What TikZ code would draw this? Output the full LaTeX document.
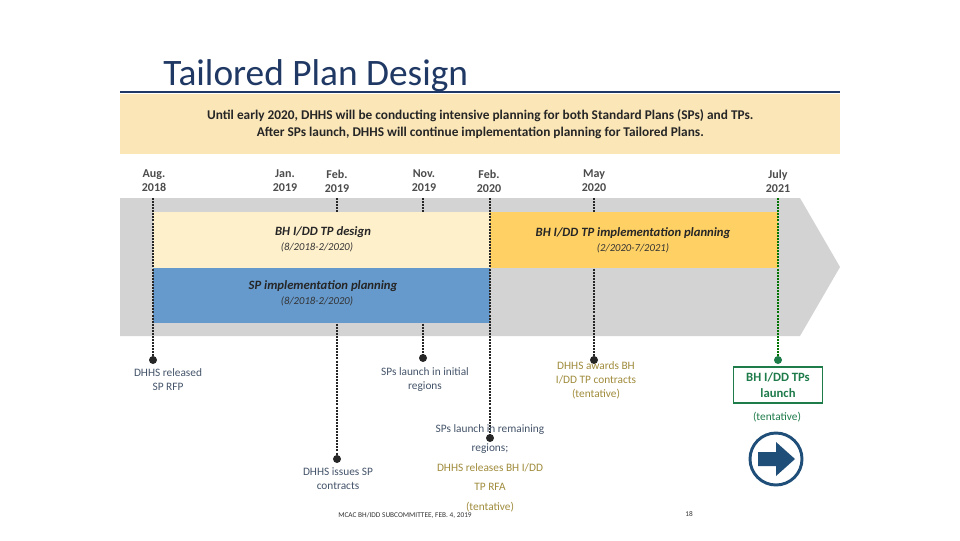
\documentclass[tikz,border=0pt]{standalone}
\usepackage{fontspec}
\setmainfont{Carlito}
\begin{document}
\begin{tikzpicture}[x=0.75pt,y=-0.75pt,
  date/.style={font=\fontsize{9}{10.5}\selectfont\bfseries, text=black!70, align=center},
  vline/.style={line width=2.2pt, dash pattern=on 1.5pt off 0.8pt, black!85},
  gline/.style={line width=2.2pt, dash pattern=on 1.5pt off 0.8pt, green!45!black},
  dotn/.style={circle, fill=black!85, inner sep=0pt, minimum size=6pt},
  blab/.style={font=\fontsize{8.5}{10.5}\selectfont, text=blgr, align=center},
  olab/.style={font=\fontsize{8.5}{10.5}\selectfont, text=gold, align=center},
  barlab/.style={font=\fontsize{9.5}{11}\selectfont\bfseries\itshape, text=black!85},
  sublab/.style={font=\fontsize{8}{10}\selectfont\itshape, text=black!80}]
\definecolor{navy}{HTML}{1F3864}
\definecolor{hdr}{HTML}{FBE6B8}
\definecolor{lyel}{HTML}{FFF0CC}
\definecolor{oran}{HTML}{FFD165}
\definecolor{blu}{HTML}{6699CC}
\definecolor{gry}{HTML}{D3D3D3}
\definecolor{blgr}{HTML}{44546A}
\definecolor{gold}{HTML}{A08C3C}
\definecolor{grn}{HTML}{1E7B4A}
\definecolor{arr}{HTML}{1F4E79}
\useasboundingbox (0,0) rectangle (960,540);
\fill[white] (0,0) rectangle (960,540);
% title
\node[anchor=base west, font=\fontsize{28}{30}\selectfont, text=navy, inner sep=0] (title) at (163,85) {Tailored Plan Design};
\draw[navy, line width=1.6pt] (120,92) -- (840,92);
\node[fill=hdr, minimum width=540pt, minimum height=45pt, inner sep=0, anchor=north west, align=center,
  font=\fontsize{10}{13}\selectfont\bfseries, text=black!85] (hdr) at (120,94)
  {Until early 2020, DHHS will be conducting intensive planning for both Standard Plans (SPs) and TPs.\\
   After SPs launch, DHHS will continue implementation planning for Tailored Plans.};
% band arrow
\fill[gry] (120,198) -- (800,198) -- (840,267) -- (800,336) -- (120,336) -- cycle;
% lines under boxes
\draw[vline] (337,198) -- (337,459) node[dotn] (d2) {};
\draw[vline] (423,198) -- (423,358) node[dotn] (d4) {};
\draw[vline] (594,198) -- (594,360) node[dotn] (d6) {};
% boxes
\fill[lyel] (153,212) rectangle (490,268);
\fill[oran] (490,212) rectangle (778,268);
\fill[blu] (153,268) rectangle (490,323);
\draw[vline] (153,198) -- (153,360) node[dotn] (d1) {};
\draw[vline] (490,198) -- (490,438) node[dotn] (d5) {};
\draw[gline] (778,198) -- (778,360) node[circle, fill=grn, inner sep=0pt, minimum size=6pt] (d7) {};
% bar labels
\node[barlab] (l1) at (323,232) {BH I/DD TP design};
\node[sublab] (s1) at (317,247) {(8/2018-2/2020)};
\node[barlab] (l2) at (633,233) {BH I/DD TP implementation planning};
\node[sublab] (s2) at (633,248) {(2/2020-7/2021)};
\node[barlab] (l3) at (323,286) {SP implementation planning};
\node[sublab] (s3) at (317,301) {(8/2018-2/2020)};
% dates
\node[date] (t1) at (154,181) {Aug.\\2018};
\node[date] (t2) at (285,181) {Jan.\\2019};
\node[date] (t3) at (337,181) {Feb.\\2019};
\node[date] (t4) at (424,181) {Nov.\\2019};
\node[date] (t5) at (489,181) {Feb.\\2020};
\node[date] (t6) at (594,181) {May\\2020};
\node[date] (t7) at (778,181) {July\\2021};
% event labels
\node[blab] (e1) at (168,380) {DHHS released\\SP RFP};
\node[blab] (e2) at (338,479) {DHHS issues SP\\contracts};
\node[blab] (e4) at (425,380) {SPs launch in initial\\regions};
\node[align=center, font=\fontsize{8.5}{14.6}\selectfont] (e5) at (490,468)
  {\textcolor{blgr}{SPs launch in remaining}\\\textcolor{blgr}{regions;}\\\textcolor{gold}{DHHS releases BH I/DD}\\\textcolor{gold}{TP RFA}\\\textcolor{gold}{(tentative)}};
\node[olab] (e6) at (596,380) {DHHS awards BH\\I/DD TP contracts\\(tentative)};
\node[draw=grn, line width=0.8pt, text=grn, font=\fontsize{9.5}{12}\selectfont\bfseries, align=center,
  minimum width=67pt, minimum height=27pt, inner sep=1pt] (e7) at (778,385) {BH I/DD TPs\\launch};
\node[text=grn, font=\fontsize{8.5}{10}\selectfont] (e7t) at (777,417) {(tentative)};
% circle arrow
\node[circle, draw=arr, line width=2.2pt, minimum size=39pt, inner sep=0] (circ) at (776,459) {};
\fill[arr] (758,452) -- (776,452) -- (776,442) -- (795,459) -- (776,476) -- (776,466) -- (758,466) -- cycle;
% footer
\node[font=\fontsize{5.5}{6}\selectfont, text=black!80] (foot) at (405,515) {MCAC BH/IDD SUBCOMMITTEE, FEB. 4, 2019};
\node[font=\fontsize{5.5}{6}\selectfont, text=black!80] (pg) at (689,514) {18};
\end{tikzpicture}
\end{document}
